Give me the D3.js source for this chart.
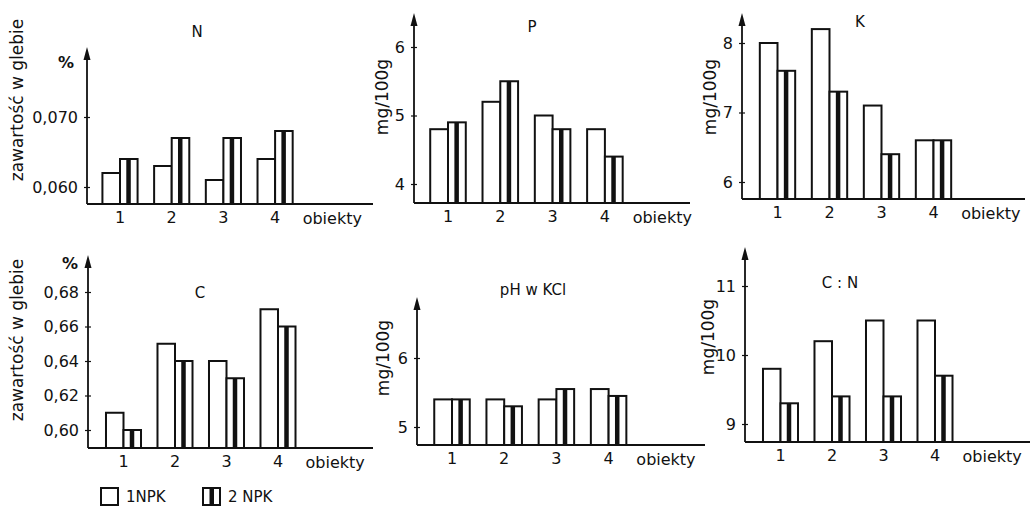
<!DOCTYPE html>
<html>
<head>
<meta charset="utf-8">
<script src="https://cdn.jsdelivr.net/npm/d3@7"></script>
<style>
  body { margin: 0; background: #fff; }
  text { font-family: "DejaVu Sans", sans-serif; fill: #111; }
</style>
</head>
<body>
<script>
// categories and series
var groups = ["1", "2", "3", "4"];
var seriesNames = ["1NPK", "2 NPK"];

// values (1NPK / 2 NPK)
var n1 = [0.062, 0.063, 0.061, 0.064], n2 = [0.064, 0.067, 0.067, 0.068];
var p1 = [4.8, 5.2, 5.0, 4.8],         p2 = [4.9, 5.5, 4.8, 4.4];
var k1 = [8.0, 8.2, 7.1, 6.6],         k2 = [7.6, 7.3, 6.4, 6.6];
var c1 = [0.61, 0.65, 0.64, 0.67],     c2 = [0.60, 0.64, 0.63, 0.66];
var ph1 = [5.4, 5.4, 5.4, 5.55],       ph2 = [5.4, 5.3, 5.55, 5.45];
var cn1 = [9.8, 10.2, 10.5, 10.5],     cn2 = [9.3, 9.4, 9.4, 9.7];

// tick labels
var nTicks = [0.060, 0.070];
var pTicks = [4, 5, 6];
var kTicks = [6, 7, 8];
var cTicks = [0.60, 0.62, 0.64, 0.66, 0.68];
var phTicks = [5, 6];
var cnTicks = [9, 10, 11];

var pl = d3.formatLocale({decimal: ",", thousands: " ", grouping: [3], currency: ["", ""]});

var width = 1031, height = 507;
var svg = d3.select("body").append("svg")
    .attr("width", width)
    .attr("height", height);

// layout of each small chart (pixel placement only)
var panels = [
  {title: "N", v1: n1, v2: n2, ticks: nTicks, fmt: pl.format(".3f"), unit: "%", ylabel: "zawartość w glebie",
   ax: 87, by: 204, top: 47, yr: [187, 117], g1: 120, step: 51.7, end: 373, tx: 197, ty: 37, ux: 66, uy: 68, lx: 17, ly: 100},
  {title: "P", v1: p1, v2: p2, ticks: pTicks, fmt: d3.format("d"), unit: "", ylabel: "mg/100g",
   ax: 414, by: 203, top: 13, yr: [184, 47], g1: 448, step: 52.3, end: 690, tx: 532, ty: 32, lx: 382, ly: 97},
  {title: "K", v1: k1, v2: k2, ticks: kTicks, fmt: d3.format("d"), unit: "", ylabel: "mg/100g",
   ax: 742, by: 199, top: 13, yr: [182, 43], g1: 777.5, step: 52, end: 1025, tx: 860, ty: 27, lx: 710, ly: 97},
  {title: "C", v1: c1, v2: c2, ticks: cTicks, fmt: pl.format(".2f"), unit: "%", ylabel: "zawartość w glebie",
   ax: 88, by: 448, top: 255, yr: [430, 292], g1: 123.5, step: 51.5, end: 373, tx: 200, ty: 298, ux: 70, uy: 269, lx: 17, ly: 340},
  {title: "pH w KCl", v1: ph1, v2: ph2, ticks: phTicks, fmt: d3.format("d"), unit: "", ylabel: "mg/100g",
   ax: 417, by: 445, top: 297, yr: [427, 358], g1: 452, step: 52.2, end: 705, tx: 533, ty: 295, lx: 383, ly: 358},
  {title: "C : N", v1: cn1, v2: cn2, ticks: cnTicks, fmt: d3.format("d"), unit: "", ylabel: "mg/100g",
   ax: 745, by: 442, top: 247, yr: [424, 286], g1: 780.5, step: 51.5, end: 1030, tx: 840, ty: 288, lx: 708, ly: 337}
];

panels.forEach(function(p) {
  var g = svg.append("g");

  var t = p.ticks;
  var y = d3.scaleLinear().domain([t[0], t[t.length - 1]]).range(p.yr);
  var x = d3.scaleBand().domain(groups)
      .range([p.g1 - p.step / 2, p.g1 + 3.5 * p.step])
      .paddingInner(0.32).paddingOuter(0.16);
  var xs = d3.scaleBand().domain(seriesNames).range([0, x.bandwidth()]);

  var rows = groups.map(function(k, i) { return {group: k, a: p.v1[i], b: p.v2[i]}; });

  // bars
  var grp = g.selectAll(".grp").data(rows).enter().append("g")
      .attr("transform", function(d) { return "translate(" + x(d.group) + ",0)"; });

  grp.append("rect")
      .attr("x", xs("1NPK"))
      .attr("y", function(d) { return y(d.a); })
      .attr("width", xs.bandwidth())
      .attr("height", function(d) { return p.by - y(d.a); })
      .attr("fill", "#fff").attr("stroke", "#111").attr("stroke-width", 2);

  grp.append("rect")
      .attr("x", xs("2 NPK"))
      .attr("y", function(d) { return y(d.b); })
      .attr("width", xs.bandwidth())
      .attr("height", function(d) { return p.by - y(d.b); })
      .attr("fill", "#fff").attr("stroke", "#111").attr("stroke-width", 2);

  // the thick stripe inside the 2 NPK bars
  grp.append("rect")
      .attr("x", xs("2 NPK") + xs.bandwidth() / 2 - 2.5)
      .attr("y", function(d) { return y(d.b); })
      .attr("width", 4.5)
      .attr("height", function(d) { return p.by - y(d.b); })
      .attr("fill", "#111");

  // y axis
  var yAxis = g.append("g")
      .attr("transform", "translate(" + p.ax + ",0)")
      .call(d3.axisLeft(y).tickValues(t).tickSize(4).tickPadding(5).tickFormat(p.fmt));
  yAxis.select(".domain").remove();
  yAxis.selectAll(".tick line").attr("x2", 3).attr("x1", -3).attr("stroke", "#111").attr("stroke-width", 1.2);
  yAxis.selectAll(".tick text")
      .style("font-family", "DejaVu Sans, sans-serif").style("font-size", "16px").attr("fill", "#111");

  g.append("line")
      .attr("x1", p.ax).attr("x2", p.ax)
      .attr("y1", p.by).attr("y2", p.top + 8)
      .attr("stroke", "#111").attr("stroke-width", 1.8);
  g.append("path")
      .attr("d", "M" + p.ax + "," + p.top + "L" + (p.ax - 3.5) + "," + (p.top + 13) + "L" + (p.ax + 3.5) + "," + (p.top + 13) + "Z")
      .attr("fill", "#111");

  // x axis
  var xAxis = g.append("g")
      .attr("transform", "translate(0," + p.by + ")")
      .call(d3.axisBottom(x).tickSize(0).tickPadding(8));
  xAxis.select(".domain").remove();
  xAxis.selectAll(".tick text")
      .style("font-family", "DejaVu Sans, sans-serif").style("font-size", "16px").attr("fill", "#111");

  g.append("line")
      .attr("x1", p.ax).attr("x2", p.end)
      .attr("y1", p.by).attr("y2", p.by)
      .attr("stroke", "#111").attr("stroke-width", 2);

  g.append("text")
      .attr("x", x("4") + x.bandwidth() + 10)
      .attr("y", p.by + 20)
      .style("font-size", "16px")
      .text("obiekty");

  // titles and labels
  g.append("text")
      .attr("x", p.tx).attr("y", p.ty)
      .attr("text-anchor", "middle")
      .style("font-size", "15px")
      .text(p.title);

  g.append("text")
      .attr("transform", "translate(" + p.lx + "," + p.ly + ") rotate(-90)")
      .attr("text-anchor", "middle")
      .attr("dy", "0.35em")
      .style("font-size", "17px")
      .text(p.ylabel);

  if (p.unit) {
    g.append("text")
        .attr("x", p.ux).attr("y", p.uy)
        .attr("text-anchor", "middle")
        .style("font-size", "16px")
        .style("font-weight", "bold")
        .text(p.unit);
  }
});

// legend
var legend = svg.selectAll(".legend")
    .data(seriesNames)
    .enter().append("g")
    .attr("class", "legend")
    .attr("transform", function(d, i) { return "translate(" + (101 + i * 102) + ",488)"; });

legend.append("rect")
    .attr("width", 17).attr("height", 17)
    .attr("fill", "#fff").attr("stroke", "#111").attr("stroke-width", 2);

legend.filter(function(d, i) { return i === 1; }).append("rect")
    .attr("x", 6.5).attr("width", 4.5).attr("height", 17)
    .attr("fill", "#111");

legend.append("text")
    .attr("x", 25).attr("y", 14)
    .style("font-size", "15px")
    .text(function(d) { return d; });
</script>
</body>
</html>
